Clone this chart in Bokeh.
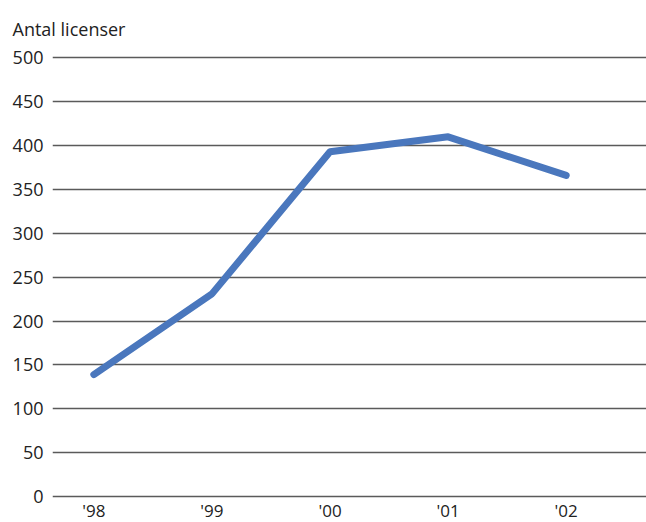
from bokeh.plotting import figure
from bokeh.models import Range1d, FixedTicker, Title, ColumnDataSource
from bokeh.core.properties import value
from bokeh.embed import file_html
from bokeh.resources import INLINE

title_text = "Antal licenser"
years = ["'98", "'99", "'00", "'01", "'02"]
licenser = [139, 231, 393, 410, 366]
y_ticks = [0, 50, 100, 150, 200, 250, 300, 350, 400, 450, 500]

xs = list(range(len(years)))
FONT = "Open Sans"

p = figure(width=646, height=522, output_backend="svg", toolbar_location=None,
           x_range=Range1d(-0.35, 4.68), y_range=Range1d(-29.6, 505),
           min_border_left=52, min_border_right=0, min_border_top=53,
           min_border_bottom=0, outline_line_color=None)
p.title = Title(text=title_text, text_font=FONT, text_font_size="18px",
                text_font_style="normal", text_color="#222222", offset=-40,
                standoff=22, vertical_align="top")

p.line(xs, licenser, line_color="#4a77bd", line_width=7,
       line_cap="round", line_join="round")

# category labels under the zero line
lab_src = ColumnDataSource(dict(x=xs, y=[-16.0] * len(xs), t=years))
p.text(x="x", y="y", text="t", source=lab_src, text_font=value(FONT),
       text_font_size="17px", text_color="#222222", text_align="center",
       text_baseline="middle")

p.xaxis.visible = False
p.yaxis.ticker = FixedTicker(ticks=y_ticks)
ax = p.yaxis[0]
ax.axis_line_color = None
ax.major_tick_line_color = None
ax.minor_tick_line_color = None
ax.major_label_text_font = FONT
ax.major_label_text_font_size = "18px"
ax.major_label_text_color = "#222222"
ax.major_label_standoff = 3

p.xgrid.grid_line_color = None
p.ygrid.ticker = FixedTicker(ticks=y_ticks)
p.ygrid.grid_line_color = "#5a5a5a"
p.ygrid.grid_line_width = 1.6

open("out.html", "w").write(file_html(p, INLINE))
